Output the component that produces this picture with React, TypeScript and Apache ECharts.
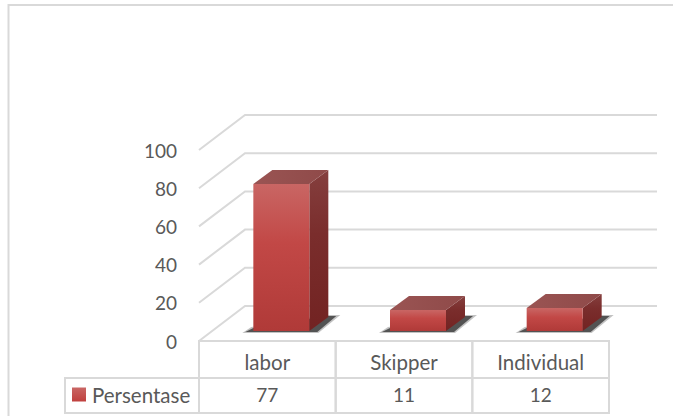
import React, { useEffect, useRef } from "react";
import * as echarts from "echarts";

const categories = ["labor", "Skipper", "Individual"];
const seriesName = "Persentase";
const values = [77, 11, 12];
const yTicks = [0, 20, 40, 60, 80, 100];

const FONT = "Lato, Carlito, Calibri, sans-serif";
const GRID = "#d9d9d9";
const TEXT = "#595959";

function grad(stops: [number, string][], x2 = 0, y2 = 1) {
  return new echarts.graphic.LinearGradient(0, 0, x2, y2, stops.map(([offset, color]) => ({ offset, color })));
}

export default function App() {
  const ref = useRef<HTMLDivElement>(null);
  useEffect(() => {
    document.body.style.margin = "0";
    document.body.style.background = "#fff";
    const chart = echarts.init(ref.current!, undefined, { renderer: "svg" });
    const wallDx = 46, wallDy = -35, wallRight = 657;
    const barW = 56, barShift = 14, barLift = 10, depthX = 19, depthY = -14;
    chart.setOption({
      animation: false,
      backgroundColor: "#ffffff",
      textStyle: { fontFamily: FONT },
      grid: { left: 199, top: 150, width: 410, height: 191, containLabel: false },
      graphic: [
        {
          type: "rect",
          silent: true,
          z: 0,
          shape: { x: 8.5, y: 5, width: 720, height: 460 },
          style: { fill: "none", stroke: GRID, lineWidth: 2 },
        },
      ],
      legend: {
        data: [
          {
            name: seriesName,
            icon: "rect",
            itemStyle: { color: grad([[0, "#c96664"], [1, "#c0403e"]]) },
          },
        ],
        left: 72,
        top: 384,
        itemWidth: 14,
        itemHeight: 14,
        itemGap: 0,
        padding: 0,
        selectedMode: false,
        textStyle: {
          color: TEXT,
          fontSize: 20.5,
          fontFamily: FONT,
          padding: [0, 0, 2, 1],
        },
      },
      xAxis: {
        type: "category",
        data: categories,
        axisLine: { show: false },
        axisTick: { show: false },
        axisLabel: {
          margin: 5,
          interval: 0,
          color: TEXT,
          fontFamily: FONT,
          formatter: (name: string) => `{n|${name}}\n{v|${values[categories.indexOf(name)]}}`,
          rich: {
            n: { fontSize: 20.5, fontFamily: FONT, color: TEXT, lineHeight: 32 },
            v: { fontSize: 19, fontFamily: FONT, color: TEXT, lineHeight: 32 },
          },
        },
      },
      yAxis: {
        type: "value",
        min: 0,
        max: 100,
        interval: 20,
        axisLine: { show: false },
        axisTick: { show: false },
        splitLine: { show: false },
        axisLabel: { margin: 22, color: TEXT, fontSize: 19, fontFamily: FONT, padding: [7, 0, 0, 0] },
      },
      series: [
        {
          type: "custom",
          name: "walls",
          silent: true,
          z: 1,
          data: yTicks.map((t) => [0, t]),
          renderItem: (params: any, api: any) => {
            const y = api.coord([0, api.value(1)])[1];
            const x0 = params.coordSys.x;
            return {
              type: "polyline",
              shape: { points: [[x0, y], [x0 + wallDx, y + wallDy], [wallRight, y + wallDy]] },
              style: { fill: "none", stroke: GRID, lineWidth: 2 },
            };
          },
        },
        {
          type: "custom",
          name: "table",
          silent: true,
          z: 1,
          data: categories.map((_, i) => [i, 0]),
          renderItem: (_: any, api: any) => {
            const band = api.size([1, 0])[0];
            const cx = api.coord([api.value(0), 0])[0];
            const top = api.coord([0, 0])[1];
            const x = cx - band / 2;
            const style = { fill: "none", stroke: GRID, lineWidth: 2 };
            const children: any[] = [
              { type: "rect", shape: { x, y: top, width: band, height: 37 }, style },
              { type: "rect", shape: { x, y: top + 37, width: band, height: 35 }, style },
            ];
            if (api.value(0) === 0) {
              children.push({ type: "rect", shape: { x: 65, y: top + 37, width: x - 65, height: 35 }, style });
            }
            return { type: "group", children };
          },
        },
        {
          type: "custom",
          name: seriesName,
          silent: true,
          z: 2,
          itemStyle: { color: "#c0504d" },
          data: values.map((v, i) => [i, v]),
          renderItem: (_: any, api: any) => {
            const [cx, yTop] = api.coord([api.value(0), api.value(1)]);
            const y0 = api.coord([0, 0])[1];
            const l = cx + barShift - barW / 2;
            const r = l + barW;
            const t = yTop - barLift;
            const b = y0 - barLift;
            return {
              type: "group",
              children: [
                {
                  type: "polygon",
                  shape: { points: [[l - 11, b + 2], [l - 2, b - 4], [r + 19, b + depthY - 2], [r + 31, b + depthY - 2], [r + 9, b + 2]] },
                  style: { fill: "#777777", opacity: 0.45 },
                },
                {
                  type: "polygon",
                  shape: { points: [[l - 8, b + 1], [l, b - 3], [r + 19, b + depthY - 1], [r + 27, b + depthY - 1], [r + 8, b + 1]] },
                  style: { fill: "#3f3f3f", opacity: 0.85 },
                },
                {
                  type: "polygon",
                  shape: { points: [[r, t], [r + depthX, t + depthY], [r + depthX, b + depthY], [r, b]] },
                  style: { fill: grad([[0, "#853f3e"], [0.4, "#7a2d2c"], [1, "#722322"]]) },
                },
                {
                  type: "polygon",
                  shape: { points: [[l, t], [l + depthX, t + depthY], [r + depthX, t + depthY], [r, t]] },
                  style: { fill: grad([[0, "#9a5453"], [1, "#8f4a49"]], 1, 0) },
                },
                {
                  type: "rect",
                  shape: { x: l, y: t, width: barW, height: b - t },
                  style: { fill: grad([[0, "#c96664"], [0.4, "#c24846"], [1, "#b03a38"]]) },
                },
              ],
            };
          },
        },
      ],
    });
    return () => chart.dispose();
  }, []);
  return <div ref={ref} style={{ position: "fixed", left: 0, top: 0, width: 673, height: 416 }} />;
}
